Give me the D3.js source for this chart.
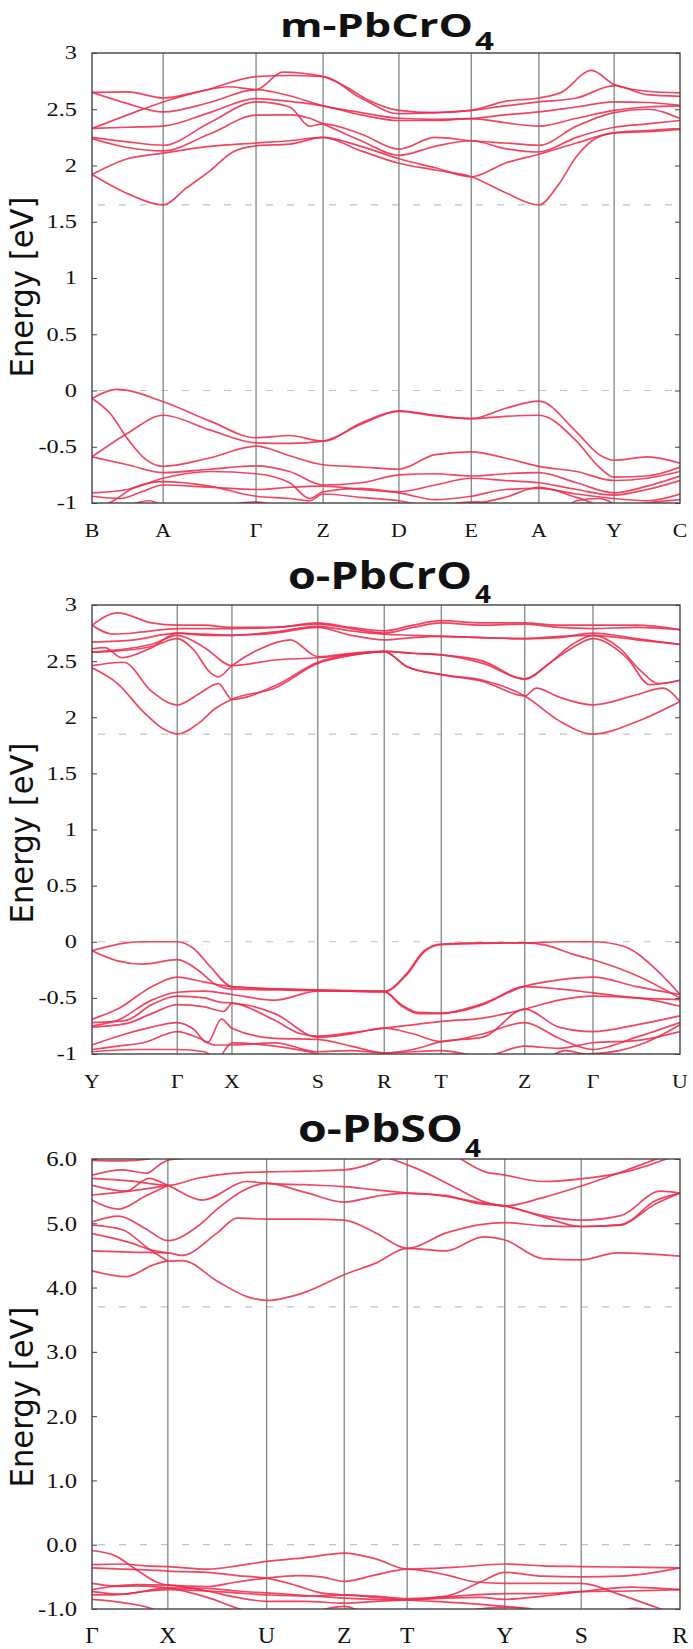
<!DOCTYPE html>
<html><head>
<meta charset="utf-8">
<title>Band structures</title>
<script src="https://d3js.org/d3.v7.min.js"></script>
<style>
  body { margin: 0; background: #fff; }
  .band { fill: none; stroke: #ee2c4c; stroke-width: 1.7; stroke-opacity: 0.88; }
  .kline { stroke: #7c8888; stroke-width: 1.3; }
  .gap { stroke: #b9c4c4; stroke-width: 1.2; stroke-dasharray: 7,14; }
  .frame { fill: none; stroke: #444; stroke-width: 1.4; }
  .ticklab, .klab { font-family: "Liberation Serif", serif; fill: #111; }
  .title { font-family: "Open Sans", sans-serif; font-weight: 700; fill: #111; }
  .ylabel { font-family: "DejaVu Sans", sans-serif; fill: #111; }
</style>
</head>
<body>
<svg id="chart" width="693" height="1649"></svg>
<script>
// ---- data: k-path labels and positions (fraction of path length) ----
const mKLabels = ["B","A","Γ","Z","D","E","A","Y","C"];
const mKPos = [0, 0.121, 0.279, 0.393, 0.522, 0.645, 0.760, 0.888, 1];
const oKLabels = ["Y","Γ","X","S","R","T","Z","Γ","U"];
const oKPos = [0, 0.145, 0.238, 0.384, 0.497, 0.594, 0.736, 0.852, 1];
const sKLabels = ["Γ","X","U","Z","T","Y","S","R"];
const sKPos = [0, 0.129, 0.297, 0.429, 0.536, 0.702, 0.832, 1];

const crTicks = [-1, -0.5, 0, 0.5, 1, 1.5, 2, 2.5, 3];
const so4Ticks = [-1, 0, 1, 2, 3, 4, 5, 6];

// dashed lines: VBM and CBM
const mGaps = [0, 1.65];
const oGaps = [0, 1.85];
const sGaps = [0, 3.70];

// bands: [k index along path, energy eV]
const mCond = [
  [[0,2.65],[0.5,2.655],[1,2.60],[1.4,2.66],[1.7,2.70],[2,2.675],[2.4,2.83],[3,2.79],[3.3,2.70],[3.6,2.58],[4,2.49],[4.5,2.47],[5,2.49],[5.5,2.57],[6,2.60],[6.3,2.65],[6.7,2.846],[7,2.72],[7.5,2.66],[8,2.645]],
  [[0,2.65],[0.5,2.55],[1,2.476],[1.5,2.56],[2,2.675],[2.5,2.62],[3,2.53],[3.5,2.47],[4,2.42],[4.5,2.41],[5,2.417],[5.5,2.45],[6,2.476],[6.5,2.52],[7,2.565],[7.5,2.56],[8,2.535]],
  [[0,2.33],[0.5,2.45],[1,2.565],[1.5,2.68],[2,2.79],[2.5,2.80],[3,2.79],[3.5,2.60],[4,2.46],[4.5,2.47],[5,2.49],[5.5,2.53],[6,2.565],[6.5,2.60],[7,2.71],[7.5,2.63],[8,2.615]],
  [[0,2.33],[0.5,2.34],[1,2.35],[1.5,2.47],[2,2.595],[2.5,2.57],[3,2.53],[3.5,2.45],[4,2.40],[4.5,2.40],[5,2.417],[5.5,2.38],[6,2.35],[6.5,2.42],[7,2.49],[7.5,2.52],[8,2.53]],
  [[0,2.25],[0.5,2.21],[1,2.18],[1.5,2.38],[2,2.565],[2.5,2.52],[2.8,2.35],[3,2.37],[3.5,2.28],[4,2.145],[4.5,2.25],[5,2.22],[5.5,2.20],[6,2.18],[6.5,2.35],[7,2.47],[7.5,2.50],[8,2.417]],
  [[0,2.24],[0.5,2.16],[1,2.13],[1.5,2.28],[2,2.447],[2.5,2.45],[2.8,2.42],[3,2.37],[3.5,2.22],[4,2.09],[4.5,2.17],[5,2.22],[5.5,2.15],[6,2.12],[6.5,2.25],[7,2.34],[7.5,2.37],[8,2.40]],
  [[0,1.92],[0.5,2.06],[1,2.11],[1.5,2.17],[2,2.20],[2.5,2.22],[3,2.25],[3.5,2.17],[4,2.06],[4.5,1.98],[5,1.90],[5.5,2.02],[6,2.10],[6.5,2.20],[7,2.29],[7.5,2.30],[8,2.32]],
  [[0,1.92],[0.5,1.75],[1,1.65],[1.25,1.80],[1.5,1.95],[1.75,2.12],[2,2.175],[2.5,2.19],[3,2.25],[3.5,2.13],[4,2.02],[4.5,1.96],[5,1.90],[5.5,1.76],[6,1.65],[6.25,1.82],[6.5,2.08],[6.75,2.24],[7,2.29],[7.5,2.31],[8,2.33]]
];
const mVal = [
  [[0,-0.07],[0.35,0.01],[1,-0.10],[1.5,-0.27],[2,-0.42],[2.5,-0.40],[3,-0.45],[3.5,-0.29],[4,-0.18],[4.5,-0.22],[5,-0.25],[5.5,-0.16],[6,-0.095],[6.5,-0.37],[6.8,-0.57],[7,-0.62],[7.5,-0.59],[8,-0.645]],
  [[0,-0.59],[0.5,-0.38],[1,-0.22],[1.5,-0.35],[2,-0.465],[2.5,-0.47],[3,-0.45],[3.5,-0.30],[4,-0.185],[4.5,-0.225],[5,-0.25],[5.5,-0.23],[6,-0.22],[6.5,-0.45],[6.8,-0.68],[7,-0.77],[7.5,-0.76],[8,-0.68]],
  [[0,-0.07],[0.25,-0.20],[0.5,-0.43],[0.75,-0.61],[1,-0.674],[1.5,-0.60],[2,-0.495],[2.5,-0.58],[3,-0.66],[3.5,-0.68],[4,-0.70],[4.5,-0.57],[5,-0.545],[5.5,-0.60],[6,-0.674],[6.5,-0.72],[7,-0.80],[7.5,-0.78],[8,-0.72]],
  [[0,-0.59],[0.5,-0.66],[1,-0.73],[1.5,-0.70],[2,-0.67],[2.5,-0.72],[3,-0.84],[3.5,-0.82],[4,-0.75],[4.5,-0.74],[5,-0.76],[5.5,-0.74],[6,-0.73],[6.5,-0.82],[7,-0.91],[7.5,-0.85],[8,-0.76]],
  [[0,-0.91],[0.5,-0.88],[1,-0.78],[1.5,-0.72],[2,-0.74],[2.5,-0.82],[2.8,-0.96],[3,-0.90],[3.5,-0.87],[4,-0.90],[4.5,-0.84],[5,-0.78],[5.5,-0.80],[6,-0.82],[6.5,-0.88],[7,-0.93],[7.5,-0.88],[8,-0.80]],
  [[0,-0.94],[0.4,-0.96],[0.7,-0.90],[1,-0.84],[1.5,-0.86],[2,-0.88],[2.5,-0.86],[3,-0.85],[3.5,-0.88],[4,-0.91],[4.5,-0.97],[5,-0.94],[5.5,-0.88],[6,-0.87],[6.5,-0.92],[7,-0.96],[7.5,-0.98],[8,-0.92]],
  [[0,-1.06],[0.3,-0.98],[0.6,-0.86],[1,-0.81],[1.5,-0.85],[2,-0.94],[2.5,-0.96],[2.8,-0.98],[3,-0.92],[3.5,-0.95],[4,-0.98],[4.5,-1.03],[5,-1.01],[5.5,-0.95],[6,-0.86],[6.5,-0.95],[7,-1.05],[7.5,-1.0],[8,-0.97]],
  [[0,-1.1],[0.5,-1.02],[0.8,-0.98],[1.1,-1.05],[1.6,-1.03],[2,-0.99],[2.4,-1.05],[3,-1.1],[4.6,-1.1],[4.8,-1.0],[5.1,-0.99],[5.5,-1.05],[6.2,-1.1],[6.5,-0.98],[6.8,-0.96],[7.1,-1.05]]
];

const oCond = [
  [[0,2.82],[0.3,2.93],[0.7,2.84],[1,2.82],[1.5,2.82],[2,2.80],[2.5,2.80],[3,2.84],[3.5,2.80],[4,2.77],[4.5,2.82],[5,2.86],[5.5,2.84],[6,2.84],[6.5,2.82],[7,2.82],[7.5,2.82],[8,2.78]],
  [[0,2.82],[0.25,2.74],[0.6,2.76],[1,2.79],[1.5,2.79],[2,2.79],[2.5,2.80],[3,2.83],[3.5,2.79],[4,2.75],[4.5,2.80],[5,2.84],[5.5,2.82],[6,2.83],[6.5,2.80],[7,2.79],[7.5,2.80],[8,2.78]],
  [[0,2.67],[0.5,2.69],[1,2.75],[1.5,2.74],[2,2.73],[2.5,2.76],[3,2.81],[3.5,2.77],[4,2.74],[4.5,2.73],[5,2.72],[5.5,2.71],[6,2.70],[6.5,2.71],[7,2.75],[7.5,2.70],[8,2.65]],
  [[0,2.61],[0.15,2.62],[0.35,2.53],[0.7,2.62],[1,2.75],[1.5,2.73],[2,2.73],[2.5,2.75],[3,2.80],[3.5,2.73],[4,2.69],[4.5,2.71],[5,2.72],[5.5,2.71],[6,2.70],[6.5,2.72],[7,2.73],[7.5,2.69],[8,2.65]],
  [[0,2.58],[0.3,2.59],[0.7,2.63],[1,2.70],[1.3,2.60],[1.6,2.40],[1.75,2.36],[2,2.46],[2.3,2.60],[2.68,2.69],[3,2.54],[3.5,2.57],[4,2.59],[4.5,2.57],[5,2.555],[5.5,2.50],[6,2.34],[6.3,2.45],[6.7,2.65],[7,2.73],[7.3,2.62],[7.54,2.42],[7.75,2.30],[8,2.33]],
  [[0,2.58],[0.3,2.60],[0.7,2.65],[1,2.73],[1.5,2.62],[2,2.46],[2.5,2.51],[3,2.53],[3.5,2.56],[4,2.585],[4.5,2.57],[5,2.555],[5.5,2.48],[6,2.34],[6.4,2.50],[6.7,2.62],[7,2.70],[7.4,2.52],[7.65,2.29],[8,2.33]],
  [[0,2.46],[0.37,2.49],[0.7,2.23],[1,2.11],[1.4,2.21],[1.75,2.30],[2,2.16],[2.5,2.28],[3,2.49],[3.5,2.56],[4,2.585],[4.4,2.45],[5,2.38],[5.5,2.32],[6,2.19],[6.17,2.26],[6.5,2.18],[7,2.11],[7.5,2.20],[7.8,2.26],[8,2.14]],
  [[0,2.44],[0.3,2.30],[0.6,2.05],[0.85,1.89],[1,1.85],[1.4,1.95],[1.7,2.08],[2,2.16],[2.5,2.26],[3,2.48],[3.5,2.55],[4,2.585],[4.4,2.45],[5,2.38],[5.5,2.33],[6,2.19],[6.5,1.97],[7,1.85],[7.5,1.96],[8,2.14]]
];
const oVal = [
  [[0,-0.08],[0.4,-0.01],[0.6,0.0],[1,0.0],[1.3,-0.06],[1.6,-0.22],[2,-0.40],[2.5,-0.42],[3,-0.43],[3.5,-0.435],[4,-0.44],[4.4,-0.28],[4.7,-0.08],[5,-0.02],[5.5,-0.01],[6,-0.01],[6.5,0.0],[7,0.0],[7.35,-0.04],[7.73,-0.25],[8,-0.47]],
  [[0,-0.08],[0.3,-0.17],[0.6,-0.20],[1,-0.16],[1.4,-0.26],[1.7,-0.38],[2,-0.42],[2.5,-0.43],[3,-0.435],[3.5,-0.44],[4,-0.445],[4.4,-0.29],[4.7,-0.09],[5,-0.025],[5.5,-0.015],[6,-0.01],[6.3,-0.03],[6.7,-0.11],[7,-0.16],[7.5,-0.30],[8,-0.50]],
  [[0,-0.69],[0.3,-0.60],[0.7,-0.40],[1,-0.315],[1.5,-0.36],[2,-0.40],[2.5,-0.42],[3,-0.43],[3.5,-0.44],[4,-0.445],[4.3,-0.56],[4.6,-0.63],[5,-0.635],[5.5,-0.55],[6,-0.395],[6.5,-0.34],[7,-0.315],[7.5,-0.40],[8,-0.47]],
  [[0,-0.75],[0.3,-0.70],[0.7,-0.52],[1,-0.45],[1.5,-0.44],[2,-0.47],[2.5,-0.52],[3,-0.44],[3.5,-0.44],[4,-0.445],[4.3,-0.57],[4.6,-0.64],[5,-0.64],[5.5,-0.56],[6,-0.40],[6.5,-0.42],[7,-0.455],[7.5,-0.50],[8,-0.515]],
  [[0,-0.72],[0.4,-0.70],[0.7,-0.56],[1,-0.485],[1.5,-0.50],[1.8,-0.54],[2,-0.545],[2.5,-0.70],[2.8,-0.82],[3,-0.84],[3.5,-0.81],[4,-0.77],[4.5,-0.74],[5,-0.71],[5.5,-0.68],[6,-0.60],[6.5,-0.52],[7,-0.485],[7.5,-0.50],[8,-0.575]],
  [[0,-0.76],[0.4,-0.73],[0.7,-0.64],[1,-0.56],[1.5,-0.58],[1.85,-0.62],[2,-0.55],[2.5,-0.64],[3,-0.85],[3.5,-0.82],[4,-0.77],[4.5,-0.82],[5,-0.89],[5.5,-0.82],[6,-0.72],[6.5,-0.86],[7,-0.96],[7.5,-0.85],[8,-0.72]],
  [[0,-0.92],[0.4,-0.82],[0.7,-0.76],[1,-0.72],[1.3,-0.78],[1.55,-0.90],[1.81,-0.69],[2,-0.77],[2.5,-0.86],[3,-0.87],[3.5,-0.93],[4,-0.99],[4.5,-0.96],[5,-0.89],[5.5,-0.85],[6,-0.60],[6.5,-0.76],[7,-0.80],[7.5,-0.74],[8,-0.66]],
  [[0,-0.96],[0.3,-0.93],[0.6,-0.90],[1,-0.80],[1.4,-0.86],[1.7,-0.92],[2,-0.92],[2.5,-0.90],[3,-0.98],[3.5,-0.97],[4,-0.99],[5,-0.97],[5.5,-1.02],[6,-0.93],[6.5,-0.95],[7,-0.90],[7.5,-0.88],[8,-0.80]],
  [[0,-0.98],[0.5,-0.96],[1,-0.96],[1.5,-0.98],[1.75,-1.05],[1.85,-0.98],[2,-0.90],[2.5,-0.93],[3,-1.0],[3.3,-1.06]],
  [[6.3,-1.06],[6.6,-0.97],[6.9,-1.0],[7.3,-0.97],[7.6,-0.90],[8,-0.74]]
];

const sCond = [
  [[0,4.26],[0.45,4.17],[0.8,4.35],[1,4.41],[1.15,4.42],[1.5,4.10],[1.8,3.86],[2,3.80],[2.5,3.93],[3,4.20],[3.5,4.38],[4,4.61],[4.4,4.57],[4.78,4.79],[5,4.74],[5.5,4.45],[6,4.43],[6.36,4.54],[7,4.49]],
  [[0,4.57],[0.5,4.55],[1,4.54],[1.14,4.50],[1.5,4.85],[1.7,5.08],[2,5.065],[2.5,5.065],[3,5.05],[3.5,4.85],[4,4.61],[4.4,4.85],[4.75,4.98],[5,5.01],[5.5,4.96],[6,4.95],[6.4,4.97],[6.75,5.35],[7,5.47]],
  [[0,5.02],[0.35,5.11],[0.7,4.92],[1,4.73],[1.3,4.95],[1.5,5.22],[1.75,5.50],[2,5.62],[2.5,5.48],[3,5.33],[3.5,5.42],[4,5.47],[4.4,5.42],[4.75,5.32],[5,5.27],[5.5,5.12],[6,5.05],[6.4,5.12],[6.8,5.50],[7,5.47]],
  [[0,4.84],[0.5,4.70],[0.8,4.58],[1,4.54]],
  [[0,4.97],[0.4,4.90],[0.75,4.60],[1,4.41]],
  [[0,5.98],[0.4,5.97],[0.75,6.0],[0.85,6.1]],
  [[0,5.75],[0.4,5.83],[0.72,5.78],[0.9,5.92],[1,5.98],[1.2,6.02],[1.3,6.1]],
  [[0,5.70],[0.5,5.66],[1,5.59],[1.3,5.70],[1.6,5.77],[2,5.80],[2.5,5.81],[3,5.83],[3.4,5.92],[3.7,6.05]],
  [[0,5.59],[0.45,5.50],[0.75,5.70],[1,5.59],[1.35,5.36],[1.8,5.65],[2,5.62],[2.5,5.60],[3,5.57],[3.5,5.52],[4,5.47],[4.4,5.43],[4.75,5.30],[5,5.27],[5.5,5.10],[6,4.95],[6.4,4.98],[6.75,5.30],[7,5.47]],
  [[0,5.44],[0.5,5.50],[1,5.59]],
  [[0,5.36],[0.35,5.22],[0.7,5.42],[1,5.59]],
  [[3.6,6.05],[4.1,5.85],[4.5,5.55],[4.8,5.33],[5,5.27],[5.5,5.40],[6,5.58],[6.5,5.85],[6.85,6.05]],
  [[4.5,6.05],[4.8,5.80],[5,5.75],[5.5,5.65],[6,5.69],[6.5,5.82],[6.95,6.05]]
];
const sVal = [
  [[0,-0.09],[0.3,-0.17],[0.6,-0.40],[0.85,-0.58],[1,-0.63],[1.4,-0.65],[1.7,-0.58],[2,-0.52],[2.4,-0.48],[2.7,-0.50],[3,-0.57],[3.5,-0.47],[4,-0.38],[4.4,-0.47],[4.7,-0.58],[5,-0.60],[5.5,-0.60],[6,-0.60],[6.4,-0.78],[6.75,-0.97],[6.9,-1.05]],
  [[0,-0.31],[0.4,-0.30],[0.7,-0.33],[1,-0.34],[1.4,-0.38],[1.7,-0.33],[2,-0.26],[2.5,-0.20],[3,-0.13],[3.5,-0.22],[4,-0.38],[4.5,-0.35],[5,-0.30],[5.5,-0.33],[6,-0.34],[6.5,-0.35],[7,-0.36]],
  [[0,-0.36],[0.4,-0.38],[0.7,-0.39],[1,-0.41],[1.4,-0.43],[1.7,-0.48],[2,-0.52],[2.4,-0.64],[2.7,-0.75],[3,-0.78],[3.5,-0.80],[4,-0.84],[4.4,-0.80],[4.75,-0.58],[5,-0.43],[5.5,-0.49],[6,-0.50],[6.4,-0.49],[7,-0.36]],
  [[0,-0.60],[0.3,-0.64],[0.6,-0.62],[1,-0.63],[1.4,-0.72],[1.7,-0.82],[2,-0.88],[2.5,-0.88],[3,-0.91],[3.5,-0.88],[4,-0.86],[4.5,-0.80],[5,-0.76],[5.5,-0.76],[6,-0.73],[6.5,-0.72],[7,-0.70]],
  [[0,-0.70],[0.3,-0.65],[0.6,-0.64],[1,-0.67],[1.4,-0.82],[1.73,-1.0],[1.9,-1.06]],
  [[0,-0.73],[0.4,-0.77],[0.7,-0.72],[1,-0.67],[1.4,-0.68],[1.7,-0.72],[2,-0.75],[2.5,-0.79],[3,-0.83],[3.5,-0.85],[4,-0.86],[4.4,-0.83],[4.75,-0.82],[5,-0.85],[5.5,-0.80],[6,-0.73],[6.5,-0.66],[7,-0.70]],
  [[0,-0.78],[0.3,-0.78],[0.6,-0.74],[1,-0.70],[1.5,-0.73],[2,-0.78],[2.5,-0.80],[3,-0.78],[3.5,-0.82],[4,-0.86],[4.5,-0.90],[5,-0.96],[5.3,-1.0],[5.5,-1.06]],
  [[0,-0.85],[0.4,-0.90],[0.8,-1.0],[0.9,-1.06]],
  [[2.6,-1.06],[2.8,-0.99],[3,-0.96],[3.3,-1.06]],
  [[4.5,-1.06],[4.8,-0.99],[5,-0.97],[5.3,-0.99],[5.5,-1.06]],
  [[6.3,-1.06],[6.55,-0.99],[6.8,-1.06]]
];

// ---- layout ----
let svg = d3.select("#chart");
let plotLeft = 92, plotRight = 680;

let panels = [
  { title: "m-PbCrO", sub: "4", kLabels: mKLabels, kPos: mKPos, yDomain: [-1, 3], ticks: crTicks,
    fmt: d => String(d), gaps: mGaps, bands: mCond.concat(mVal),
    top: 53, bottom: 503, titleX: 280, titleW: 193, titleY: 37, titleSize: 33,
    subX: 475, subW: 19, subY: 50, labelMid: 287, textSize: 19, textScale: 1.28, kScale: 1.12 },
  { title: "o-PbCrO", sub: "4", kLabels: oKLabels, kPos: oKPos, yDomain: [-1, 3], ticks: crTicks,
    fmt: d => String(d), gaps: oGaps, bands: oCond.concat(oVal),
    top: 605, bottom: 1054, titleX: 288, titleW: 184, titleY: 589, titleSize: 37,
    subX: 475, subW: 16, subY: 603, labelMid: 833, textSize: 19, textScale: 1.28, kScale: 1.12 },
  { title: "o-PbSO", sub: "4", kLabels: sKLabels, kPos: sKPos, yDomain: [-1, 6], ticks: so4Ticks,
    fmt: d => d.toFixed(1), gaps: sGaps, bands: sCond.concat(sVal),
    top: 1159, bottom: 1609, titleX: 298, titleW: 165, titleY: 1142, titleSize: 37,
    subX: 465, subW: 16, subY: 1157, labelMid: 1397, textSize: 22, textScale: 1.12, kScale: 1.05 }
];

panels.forEach(function(p, i) {
  let g = svg.append("g");
  let x = d3.scaleLinear().domain([0, 1]).range([plotLeft, plotRight]);
  let y = d3.scaleLinear().domain(p.yDomain).range([p.bottom, p.top]);
  // k index -> fraction of path
  let kFrac = d3.scaleLinear().domain(d3.range(p.kPos.length)).range(p.kPos);

  svg.append("clipPath").attr("id", "clip" + i)
    .append("rect")
    .attr("x", plotLeft).attr("y", p.top)
    .attr("width", plotRight - plotLeft).attr("height", p.bottom - p.top);

  // dashed band-edge lines
  g.selectAll("line.gap").data(p.gaps).join("line")
    .attr("class", "gap")
    .attr("x1", plotLeft + 6).attr("x2", plotRight)
    .attr("y1", d => y(d)).attr("y2", d => y(d));

  // high symmetry verticals
  g.selectAll("line.kline").data(p.kPos.slice(1, -1)).join("line")
    .attr("class", "kline")
    .attr("x1", d => x(d)).attr("x2", d => x(d))
    .attr("y1", p.top).attr("y2", p.bottom);

  // bands
  let line = d3.line()
    .x(d => x(kFrac(d[0])))
    .y(d => y(d[1]))
    .curve(d3.curveMonotoneX);

  g.append("g").attr("clip-path", "url(#clip" + i + ")")
    .selectAll("path").data(p.bands).join("path")
    .attr("class", "band")
    .attr("d", line);

  // frame
  g.append("rect").attr("class", "frame")
    .attr("x", plotLeft).attr("y", p.top)
    .attr("width", plotRight - plotLeft).attr("height", p.bottom - p.top);

  // inward ticks, both sides
  g.append("g").attr("transform", "translate(" + plotLeft + ",0)")
    .attr("color", "#444")
    .call(d3.axisLeft(y).tickValues(p.ticks).tickSize(-5).tickFormat(""))
    .call(s => s.select(".domain").remove());
  g.append("g").attr("transform", "translate(" + plotRight + ",0)")
    .attr("color", "#444")
    .call(d3.axisRight(y).tickValues(p.ticks).tickSize(-5).tickFormat(""))
    .call(s => s.select(".domain").remove());

  // tick labels
  g.selectAll("text.ticklab").data(p.ticks).join("text")
    .attr("class", "ticklab")
    .attr("transform", d => "translate(77," + y(d) + ") scale(" + p.textScale + ",1)")
    .attr("text-anchor", "end")
    .attr("dy", "0.34em")
    .style("font-size", p.textSize + "px")
    .text(p.fmt);

  // k-point labels
  g.selectAll("text.klab").data(p.kLabels).join("text")
    .attr("class", "klab")
    .attr("transform", (d, j) => "translate(" + x(p.kPos[j]) + "," + (p.bottom + 34) + ") scale(" + p.kScale + ",1)")
    .attr("text-anchor", "middle")
    .style("font-size", (p.textSize + 0.5) + "px")
    .text(d => d);

  // title with subscript
  g.append("text").attr("class", "title")
    .attr("x", p.titleX).attr("y", p.titleY)
    .attr("textLength", p.titleW).attr("lengthAdjust", "spacingAndGlyphs")
    .style("font-size", p.titleSize + "px")
    .text(p.title);
  g.append("text").attr("class", "title")
    .attr("x", p.subX).attr("y", p.subY)
    .attr("textLength", p.subW).attr("lengthAdjust", "spacingAndGlyphs")
    .style("font-size", "25px")
    .text(p.sub);

  // y axis title
  g.append("text").attr("class", "ylabel")
    .attr("transform", "translate(33," + p.labelMid + ") rotate(-90)")
    .attr("text-anchor", "middle")
    .attr("textLength", 181).attr("lengthAdjust", "spacingAndGlyphs")
    .style("font-size", "32px")
    .text("Energy [eV]");
});
</script>
</body>
</html>
